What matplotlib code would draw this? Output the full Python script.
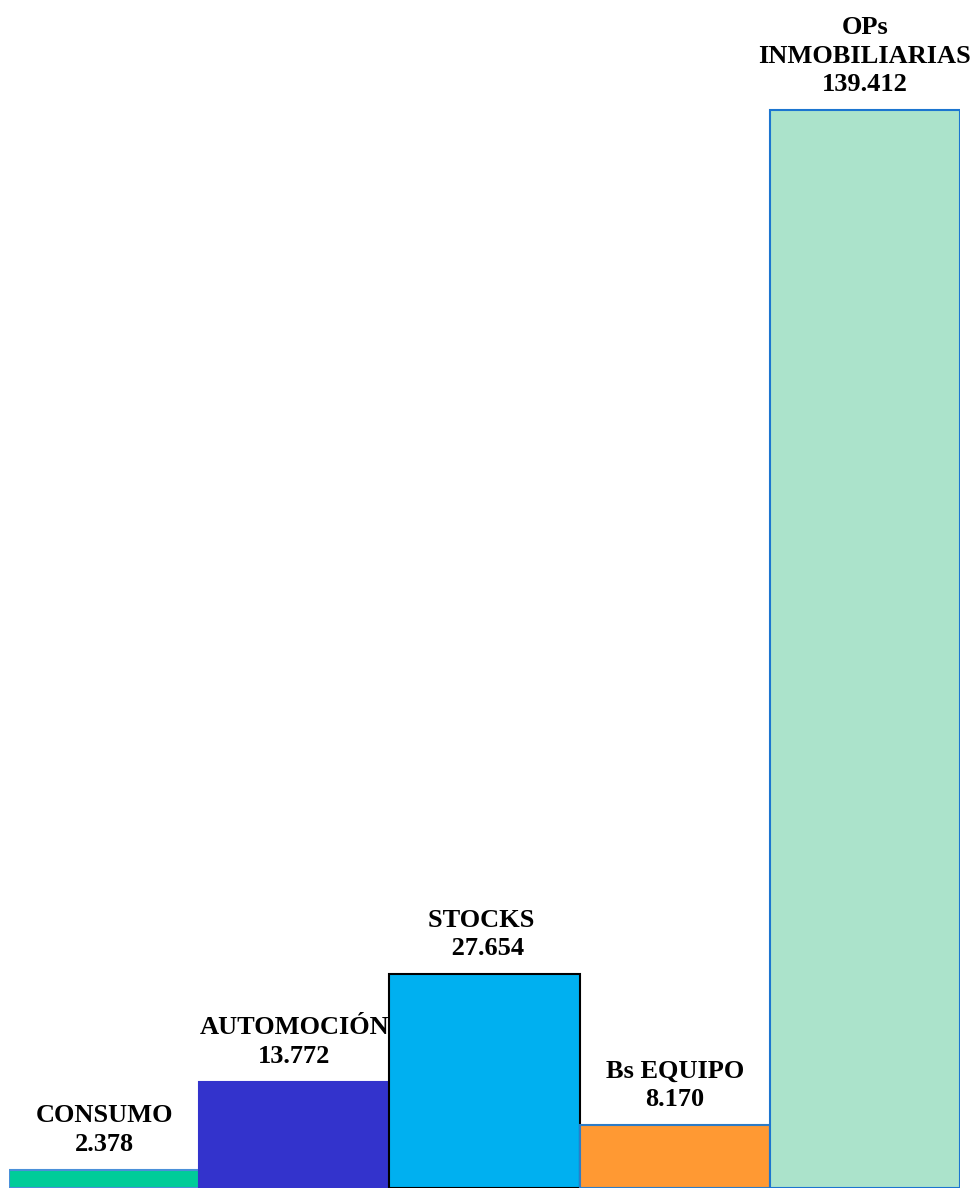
import matplotlib
matplotlib.use("Agg")
import matplotlib.pyplot as plt

categories = ["CONSUMO", "AUTOMOCIÓN", "STOCKS", "Bs EQUIPO", "OPs\nINMOBILIARIAS"]
values = [2.378, 13.772, 27.654, 8.170, 139.412]
value_labels = ["2.378", "13.772", " 27.654", "8.170", "139.412"]
label_names = ["CONSUMO", "AUTOMOCIÓN", "STOCKS ", "Bs EQUIPO", "OPs\nINMOBILIARIAS"]
fill_colors = ["#00CC99", "#3333CC", "#00B0F0", "#FF9933", "#ABE3CB"]
edge_colors = ["#4A90D9", "#3333CC", "#000000", "#2E7CC6", "#1C75D0"]

fig = plt.figure(figsize=(9.77, 11.88), dpi=100)
ymax = 150.0
px_per_unit = (1188 - 110) / values[-1]
ax_h = ymax * px_per_unit / 1188
ax = fig.add_axes([9 / 977, 0, 951 / 977, ax_h])
x = list(range(len(values)))
bars = ax.bar(x, values, width=1.0, color=fill_colors, edgecolor=edge_colors, linewidth=1.5)
ax.set_xlim(-0.5, len(values) - 0.5)
ax.set_ylim(0, ymax)
ax.axis("off")

for xi, v, name, vl in zip(x, values, label_names, value_labels):
    ax.annotate(f"{name}\n{vl}", xy=(xi, v), xytext=(0, 10), textcoords="offset points",
                ha="center", va="bottom", multialignment="center",
                fontsize=19, fontweight="bold", family="Liberation Serif",
                linespacing=1.3, annotation_clip=False)

fig.savefig("out.png", dpi=100)
